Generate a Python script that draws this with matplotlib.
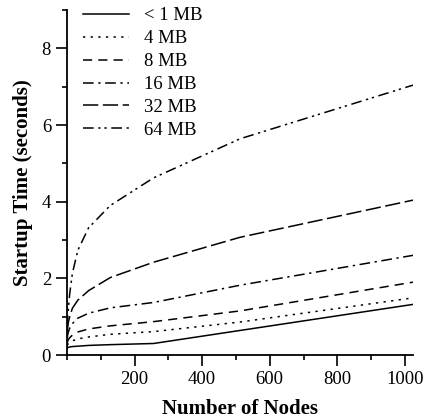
import matplotlib
matplotlib.use("Agg")
import matplotlib.pyplot as plt
from matplotlib.ticker import MultipleLocator

nodes = [1, 2, 4, 8, 16, 32, 64, 128, 256, 512, 1024]
labels = ["< 1 MB", "4 MB", "8 MB", "16 MB", "32 MB", "64 MB"]
t_1mb = [0.18, 0.19, 0.20, 0.21, 0.22, 0.23, 0.25, 0.27, 0.30, 0.64, 1.32]
t_4mb = [0.25, 0.27, 0.30, 0.33, 0.37, 0.42, 0.47, 0.54, 0.61, 0.86, 1.49]
t_8mb = [0.32, 0.36, 0.40, 0.45, 0.52, 0.60, 0.68, 0.76, 0.87, 1.15, 1.90]
t_16mb = [0.45, 0.52, 0.60, 0.70, 0.82, 0.96, 1.09, 1.23, 1.37, 1.82, 2.60]
t_32mb = [0.62, 0.72, 0.85, 1.00, 1.22, 1.43, 1.68, 2.02, 2.42, 3.07, 4.04]
t_64mb = [0.75, 0.95, 1.20, 1.60, 2.13, 2.73, 3.32, 3.90, 4.62, 5.64, 7.04]
series = [t_1mb, t_4mb, t_8mb, t_16mb, t_32mb, t_64mb]
styles = ["-", (0, (1.5, 3.5)), (0, (6, 4)), (0, (7, 3, 1.5, 3)), (0, (10, 3)),
          (0, (7, 3, 1.5, 2.5, 1.5, 3))]

plt.rcParams['font.family'] = ['Liberation Serif', 'DejaVu Serif']

fig = plt.figure(figsize=(4.24, 4.19), dpi=100)
ax = fig.add_axes([67/424, 1-355/419, (413-67)/424, (355-10)/419])

for y, lab, ls in zip(series, labels, styles):
    ax.plot(nodes, y, color="black", linestyle=ls, linewidth=1.1, label=lab)

ax.set_xlim(0, 1024)
ax.set_ylim(0, 9)
ax.xaxis.set_major_locator(MultipleLocator(200))
ax.xaxis.set_minor_locator(MultipleLocator(100))
ax.yaxis.set_major_locator(MultipleLocator(2))
ax.yaxis.set_minor_locator(MultipleLocator(1))
ax.set_xticks([200, 400, 600, 800, 1000])
ax.spines['top'].set_visible(False)
ax.spines['right'].set_visible(False)
for s in ['left', 'bottom']:
    ax.spines[s].set_linewidth(1.3)
ax.tick_params(which='major', length=8, width=1.2, labelsize=13.5, direction='out')
ax.tick_params(which='minor', length=3.8, width=1.2, direction='out')

ax.set_xlabel("Number of Nodes", fontsize=15, fontweight='bold', labelpad=8)
ax.set_ylabel("Startup Time (seconds)", fontsize=15, fontweight='bold', labelpad=6)

leg = ax.legend(loc='upper left', bbox_to_anchor=(0.025, 1.03), frameon=False,
                fontsize=13.5, handlelength=2.45, labelspacing=0.31, handletextpad=0.8,
                borderaxespad=0)

fig.savefig("out.png", dpi=100)
